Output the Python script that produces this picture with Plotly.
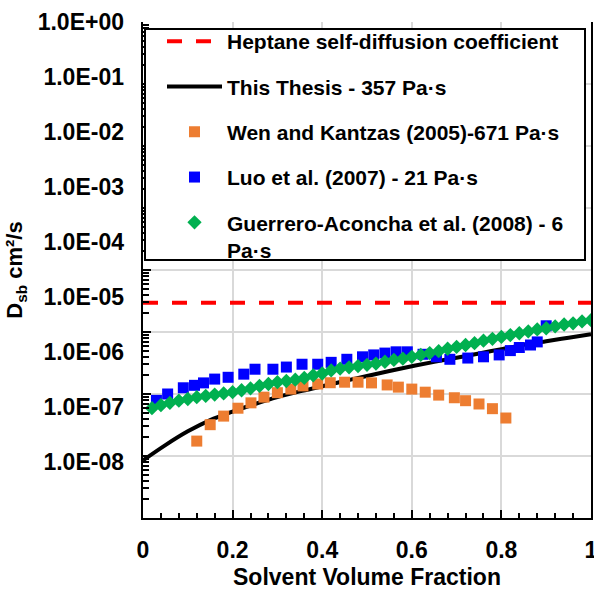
import plotly.graph_objects as go

# ---------------- data ----------------
heptane_x = [0.0, 1.0]
heptane_y = [2.95e-5, 2.95e-5]

thesis_x = [0.0, 0.05, 0.10, 0.15, 0.20, 0.25, 0.30, 0.35, 0.40, 0.45, 0.50,
            0.55, 0.60, 0.65, 0.70, 0.75, 0.80, 0.85, 0.90, 0.95, 1.00]
thesis_y = [8.5e-8, 1.5e-7, 2.5e-7, 3.8e-7, 5.2e-7, 6.9e-7, 8.9e-7, 1.1e-6, 1.33e-6,
            1.62e-6, 1.95e-6, 2.35e-6, 2.8e-6, 3.3e-6, 3.85e-6, 4.5e-6, 5.3e-6, 6.2e-6,
            7.1e-6, 8.1e-6, 9.2e-6]

wen_x = [0.12, 0.15, 0.18, 0.212, 0.241, 0.27, 0.30, 0.33, 0.357, 0.39, 0.418,
         0.45, 0.48, 0.51, 0.545, 0.57, 0.60, 0.63, 0.66, 0.695, 0.72, 0.75, 0.78, 0.81]
wen_y = [1.74e-7, 3.2e-7, 4.4e-7, 5.9e-7, 7.2e-7, 8.9e-7, 1.05e-6, 1.2e-6, 1.35e-6,
         1.45e-6, 1.52e-6, 1.55e-6, 1.55e-6, 1.51e-6, 1.40e-6, 1.29e-6, 1.20e-6,
         1.07e-6, 9.6e-7, 8.7e-7, 7.8e-7, 6.9e-7, 5.8e-7, 4.1e-7]

luo_x = [0.03, 0.055, 0.09, 0.115, 0.135, 0.16, 0.19, 0.225, 0.25, 0.29, 0.32,
         0.355, 0.39, 0.42, 0.455, 0.49, 0.515, 0.54, 0.565, 0.59, 0.625, 0.655,
         0.685, 0.725, 0.76, 0.795, 0.82, 0.84, 0.865, 0.88, 0.90]
luo_y = [7.9e-7, 1.0e-6, 1.26e-6, 1.38e-6, 1.51e-6, 1.74e-6, 1.86e-6, 2.09e-6, 2.51e-6,
         2.51e-6, 2.72e-6, 3.02e-6, 3.02e-6, 3.24e-6, 3.63e-6, 3.98e-6, 4.27e-6, 4.57e-6,
         4.79e-6, 4.79e-6, 4.37e-6, 3.98e-6, 3.63e-6, 3.80e-6, 3.98e-6, 4.27e-6, 5.01e-6,
         5.62e-6, 6.17e-6, 6.92e-6, 1.26e-5]

guerrero_x = [0.02, 0.04, 0.06, 0.08, 0.10, 0.12, 0.14, 0.16, 0.18, 0.20,
              0.22, 0.24, 0.26, 0.28, 0.30, 0.32, 0.34, 0.36, 0.38, 0.40,
              0.42, 0.44, 0.46, 0.48, 0.50, 0.52, 0.54, 0.56, 0.58, 0.60,
              0.62, 0.64, 0.66, 0.68, 0.70, 0.72, 0.74, 0.76, 0.78, 0.80,
              0.82, 0.84, 0.86, 0.88, 0.90, 0.92, 0.94, 0.96, 0.98, 1.00]
guerrero_y = [5.9e-7, 6.6e-7, 7.2e-7, 7.8e-7, 8.3e-7, 8.9e-7, 9.3e-7, 9.8e-7, 1.02e-6, 1.07e-6,
              1.15e-6, 1.23e-6, 1.35e-6, 1.45e-6, 1.55e-6, 1.62e-6, 1.70e-6, 1.82e-6, 2.0e-6, 2.14e-6,
              2.4e-6, 2.57e-6, 2.69e-6, 2.82e-6, 2.95e-6, 3.09e-6, 3.31e-6, 3.55e-6, 3.72e-6, 3.98e-6,
              4.27e-6, 4.57e-6, 4.9e-6, 5.37e-6, 5.75e-6, 6.17e-6, 6.61e-6, 7.24e-6, 7.76e-6, 8.32e-6,
              8.91e-6, 9.55e-6, 1.02e-5, 1.10e-5, 1.15e-5, 1.23e-5, 1.32e-5, 1.38e-5, 1.48e-5, 1.55e-5]

y_tick_vals = [1e0, 1e-1, 1e-2, 1e-3, 1e-4, 1e-5, 1e-6, 1e-7, 1e-8]
y_tick_text = ["1.0E+00", "1.0E-01", "1.0E-02", "1.0E-03", "1.0E-04",
               "1.0E-05", "1.0E-06", "1.0E-07", "1.0E-08"]

names = ["Heptane self-diffusion coefficient",
         "This Thesis - 357 Pa·s",
         "Wen and Kantzas (2005)-671 Pa·s",
         "Luo et al. (2007) - 21 Pa·s",
         "Guerrero-Aconcha et al. (2008) - 6<br>Pa·s"]

# ---------------- figure ----------------
fig = go.Figure()
fig.add_trace(go.Scatter(x=heptane_x, y=heptane_y, mode="lines", name=names[0],
                         legendgroup="g1",
                         line=dict(color="#ff0000", width=4, dash="15px,14px")))
fig.add_trace(go.Scatter(x=thesis_x, y=thesis_y, mode="lines", name=names[1],
                         legendgroup="g2", line=dict(color="black", width=4, shape="spline")))
fig.add_trace(go.Scatter(x=wen_x, y=wen_y, mode="markers", name=names[2],
                         legendgroup="g3",
                         marker=dict(symbol="square", size=11, color="#ed7d31")))
fig.add_trace(go.Scatter(x=luo_x, y=luo_y, mode="markers", name=names[3],
                         legendgroup="g4",
                         marker=dict(symbol="square", size=11, color="#0000ff")))
fig.add_trace(go.Scatter(x=guerrero_x, y=guerrero_y, mode="markers", name=names[4],
                         legendgroup="g5",
                         marker=dict(symbol="diamond", size=11, color="#00b050")))
# carrier for the label axis
fig.add_trace(go.Scatter(x=[None], y=[None], yaxis="y2", showlegend=False, hoverinfo="skip"))

W, H = 594, 590
L, R, T, B = 143, 3, 22, 72
pw, ph = W - L - R, H - T - B

def px_x(p):
    return (p - L) / pw

def px_y(p):
    return (H - B - p) / ph

fig.update_layout(
    width=W, height=H,
    margin=dict(l=L, r=R, t=T, b=B, autoexpand=False),
    paper_bgcolor="white", plot_bgcolor="white",
    font=dict(family="Liberation Sans, Arial, sans-serif", size=21, color="black", weight="bold"),
    showlegend=True,
    legend=dict(x=px_x(162), y=px_y(21), xanchor="left", yanchor="top",
                bgcolor="rgba(0,0,0,0)", borderwidth=0,
                font=dict(size=21, weight="bold"),
                tracegroupgap=15, itemwidth=55, valign="top",
                traceorder="grouped"),
    shapes=[dict(type="rect", xref="paper", yref="paper",
                 x0=px_x(145), x1=px_x(585), y0=px_y(260), y1=px_y(29),
                 fillcolor="white", line=dict(color="black", width=2), layer="above")],
)

fig.update_xaxes(
    range=[0, 1], dtick=0.2, showgrid=True, gridcolor="#d9d9d9", gridwidth=2,
    zeroline=False, showline=True, linecolor="black", linewidth=2,
    ticks="inside", ticklen=8, tickwidth=2, tickcolor="black",
    minor=dict(dtick=0.04, ticks="inside", ticklen=5, tickwidth=2, tickcolor="black", showgrid=False),
    tickfont=dict(size=23, weight="bold"), ticklabelstandoff=10, ticklabeloverflow="allow",
    title=dict(text="Solvent Volume Fraction", font=dict(size=23, weight="bold"), standoff=10),
    automargin=False,
)

fig.update_layout(
    yaxis=dict(type="log", range=[-8, 0], dtick=1, showgrid=True, gridcolor="#d9d9d9",
               gridwidth=2, zeroline=False, showline=True, linecolor="black", linewidth=2,
               mirror=True, showticklabels=False,
               ticks="inside", ticklen=8, tickwidth=2, tickcolor="black",
               minor=dict(ticks="inside", ticklen=6, tickwidth=2, tickcolor="black", showgrid=False),
               automargin=False),
    yaxis2=dict(type="log", overlaying="y", side="left", range=[-9.02, 0.001],
                tickvals=y_tick_vals, ticktext=y_tick_text, showgrid=False, zeroline=False,
                showline=False, ticks="", tickfont=dict(size=23, weight="bold"),
                ticklabelstandoff=18, ticklabeloverflow="allow",
                title=dict(text="D<sub>sb</sub> cm²/s", font=dict(size=22, weight="bold"), standoff=8),
                automargin=False),
)

fig.write_html("out.html", config={"displayModeBar": False},
               post_script="document.body.style.margin='0';document.body.style.padding='0';")
